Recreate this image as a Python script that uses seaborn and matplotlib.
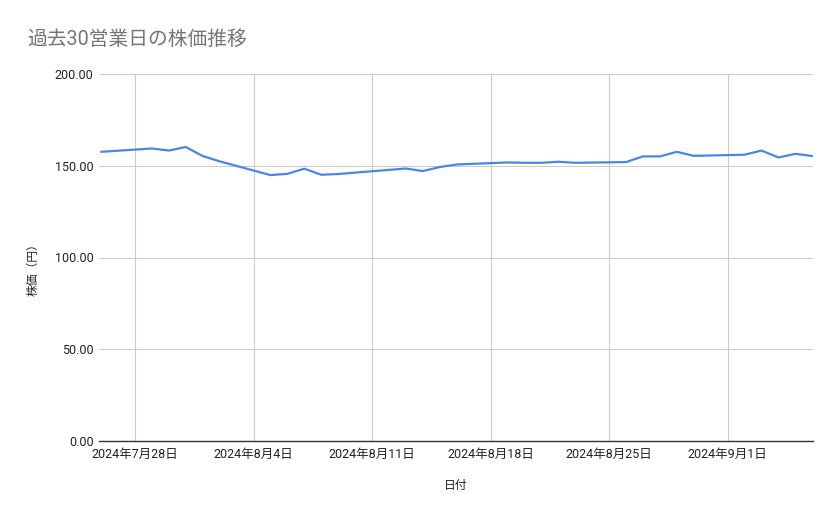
import pandas as pd
import matplotlib
matplotlib.use("Agg")
import matplotlib.pyplot as plt
import seaborn as sns

# 過去30営業日の終値
dates = ["2024-07-26", "2024-07-29", "2024-07-30", "2024-07-31", "2024-08-01", "2024-08-02",
         "2024-08-05", "2024-08-06", "2024-08-07", "2024-08-08", "2024-08-09",
         "2024-08-13", "2024-08-14", "2024-08-15", "2024-08-16",
         "2024-08-19", "2024-08-20", "2024-08-21", "2024-08-22", "2024-08-23",
         "2024-08-26", "2024-08-27", "2024-08-28", "2024-08-29", "2024-08-30",
         "2024-09-02", "2024-09-03", "2024-09-04", "2024-09-05", "2024-09-06"]
prices = [157.6, 159.4, 158.3, 160.2, 155.3, 152.4,
          144.9, 145.6, 148.4, 145.1, 145.5,
          148.5, 147.1, 149.3, 150.7,
          151.8, 151.6, 151.6, 152.2, 151.6,
          152.0, 155.1, 155.1, 157.6, 155.4,
          156.0, 158.3, 154.5, 156.5, 155.3]
tick_dates = ["2024-07-28", "2024-08-04", "2024-08-11", "2024-08-18", "2024-08-25", "2024-09-01"]
y_ticks = [0, 50, 100, 150, 200]

df = pd.DataFrame({"日付": pd.to_datetime(dates), "株価（円）": prices})

sns.set_theme(style="white")
plt.rcParams["font.family"] = ["Roboto", "Noto Sans CJK JP", "DejaVu Sans"]

fig = plt.figure(figsize=(8.39, 5.19), dpi=100)
ax = fig.add_axes([99 / 839, 1 - 441 / 519, (813 - 99) / 839, (441 - 74) / 519])

sns.lineplot(data=df, x="日付", y="株価（円）", ax=ax, color="#4a86e8", linewidth=1.6)

ticks = pd.to_datetime(tick_dates)
ax.set_xticks(ticks)
ax.set_xticklabels([f"{d.year}年{d.month}月{d.day}日" for d in ticks], fontsize=9, color="#222222")
ax.set_xlim(df["日付"].min() - pd.Timedelta(hours=3), df["日付"].max() + pd.Timedelta(hours=1))
ax.set_ylim(0, 200)
ax.set_yticks(y_ticks)
ax.set_yticklabels([f"{v:.2f}" for v in y_ticks], fontsize=9, color="#222222")
ax.tick_params(axis="both", length=0)
ax.tick_params(axis="x", pad=5)
ax.tick_params(axis="y", pad=4)

ax.grid(True, color="#cccccc", linewidth=0.8)
ax.set_axisbelow(True)
for side in ["left", "right", "top"]:
    ax.spines[side].set_visible(False)
ax.spines["bottom"].set_color("#333333")
ax.spines["bottom"].set_linewidth(1.0)

ax.set_xlabel("")
ax.set_ylabel("")
fig.text(456 / 839, 1 - 486 / 519, "日付", ha="center", va="center", fontsize=8.5, color="#222222")
fig.text(33 / 839, 1 - 267 / 519, "株価（円）", ha="center", va="center", rotation=90,
         fontsize=8.5, color="#222222")
fig.text(27 / 839, 1 - 39 / 519, "過去30営業日の株価推移", ha="left", va="center",
         fontsize=14.2, color="#757575")

fig.savefig("out.png", dpi=100)
